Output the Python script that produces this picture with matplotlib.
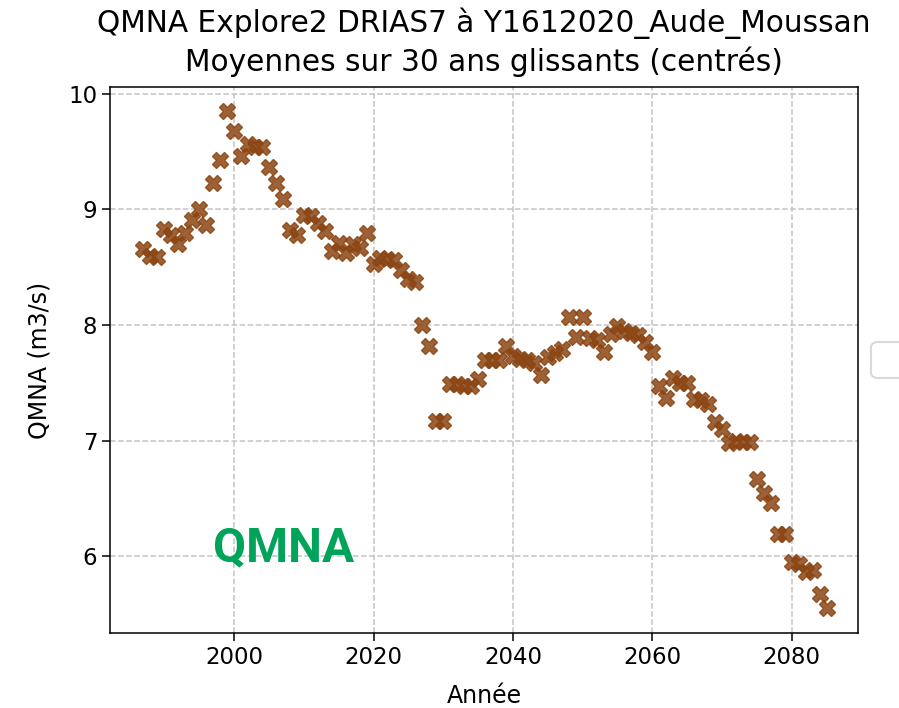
import numpy as np
import matplotlib
matplotlib.use("Agg")
import matplotlib.pyplot as plt
from matplotlib.patches import FancyBboxPatch

# années centrées des moyennes glissantes sur 30 ans
annees = list(range(1987, 2086))

# QMNA (m3/s)
qmna = [
    8.66, 8.60, 8.59, 8.83, 8.78, 8.70, 8.80, 8.91, 9.00, 8.87,   # 1987-1996
    9.23, 9.43, 9.85, 9.68, 9.46, 9.57, 9.54, 9.54, 9.37, 9.23,   # 1997-2006
    9.09, 8.82, 8.78, 8.95, 8.94, 8.88, 8.81, 8.64, 8.71, 8.62,   # 2007-2016
    8.70, 8.67, 8.80, 8.53, 8.58, 8.57, 8.56, 8.48, 8.40, 8.37,   # 2017-2026
    8.00, 7.82, 7.17, 7.17, 7.49, 7.49, 7.47, 7.47, 7.53, 7.70,   # 2027-2036
    7.70, 7.70, 7.82, 7.73, 7.71, 7.70, 7.67, 7.57, 7.72, 7.76,   # 2037-2046
    7.79, 8.07, 7.90, 8.07, 7.89, 7.87, 7.77, 7.92, 7.99, 7.95,   # 2047-2056
    7.93, 7.91, 7.85, 7.77, 7.47, 7.37, 7.54, 7.50, 7.50, 7.36,   # 2057-2066
    7.35, 7.32, 7.16, 7.10, 6.98, 7.00, 6.99, 6.99, 6.67, 6.55,   # 2067-2076
    6.46, 6.19, 6.19, 5.95, 5.93, 5.86, 5.88, 5.67, 5.55,         # 2077-2085
]

titre = "QMNA Explore2 DRIAS7 à Y1612020_Aude_Moussan\nMoyennes sur 30 ans glissants (centrés)"

fig = plt.figure(figsize=(8.99, 7.08), dpi=100)
ax = fig.add_axes([110 / 899, 1 - 633 / 708, 748 / 899, 546 / 708])

ax.plot(annees, qmna, linestyle="none", marker="X", markersize=12,
        color="#8B4513", markeredgecolor="#8B4513", alpha=0.85, zorder=3)

ax.set_xlim(1982.2, 2089.5)
ax.set_ylim(5.335, 10.06)
ax.set_xticks([2000, 2020, 2040, 2060, 2080])
ax.set_yticks([6, 7, 8, 9, 10])
ax.tick_params(labelsize=16.5, length=5.5, width=1.1)
for s in ax.spines.values():
    s.set_linewidth(1.1)
ax.grid(True, linestyle="--", color="#c4c4c4", linewidth=1.1)
ax.set_axisbelow(True)

ax.set_xlabel("Année", fontsize=17, labelpad=11)
ax.set_ylabel("QMNA (m3/s)", fontsize=17, labelpad=12)
ax.set_title(titre, fontsize=21.3, pad=11.5, linespacing=1.3)

ax.text(0.138, 0.132, "QMNA", transform=ax.transAxes, fontsize=34.5,
        fontweight="bold", family="Roboto", color="#00A35A")

# légende vide, coupée au bord droit de l'image
cadre = FancyBboxPatch((871 / 899, 1 - 378 / 708), 60 / 899, 36 / 708,
                       boxstyle="round,pad=0,rounding_size=0.008",
                       transform=fig.transFigure, facecolor="white",
                       edgecolor="#d8d8d8", linewidth=1.5)
fig.patches.append(cadre)

fig.savefig("out.png", dpi=100)
